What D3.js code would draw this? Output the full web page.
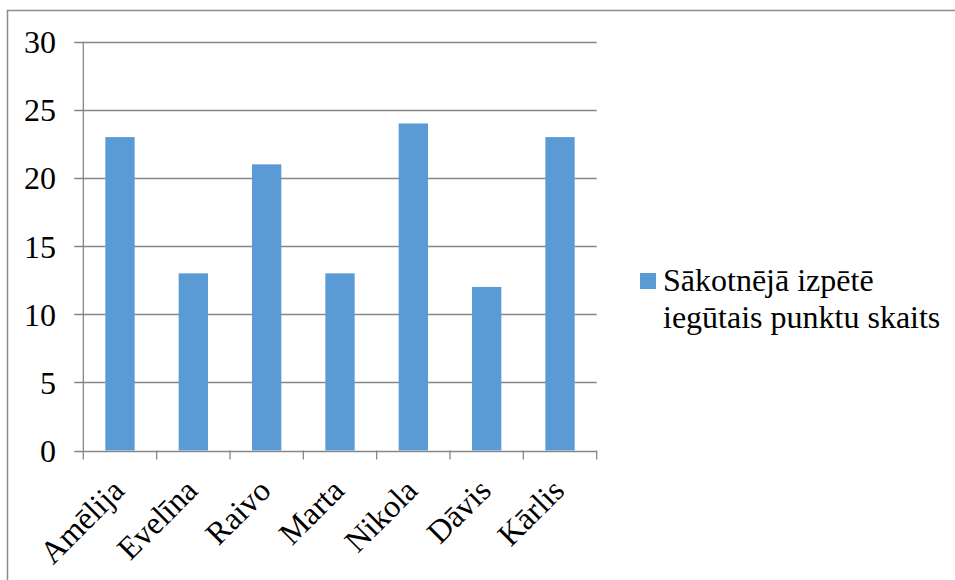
<!DOCTYPE html>
<html>
<head>
<meta charset="utf-8">
<script src="https://cdn.jsdelivr.net/npm/d3@7"></script>
<style>
  body { margin: 0; background: #fff; }
</style>
</head>
<body>
<div id="viz"></div>
<script>
(function chart() {
  const width = 955;
  const height = 580;

  const names = ['Amēlija', 'Evelīna', 'Raivo', 'Marta', 'Nikola', 'Dāvis', 'Kārlis'];
  const scores = [23, 13, 21, 13, 24, 12, 23];
  const yTicks = [0, 5, 10, 15, 20, 25, 30];
  const legendLines = ['Sākotnējā izpētē', 'iegūtais punktu skaits'];

  const barColor = '#5B9BD5';
  const gridColor = '#878787';
  const fontFamily = '"Liberation Serif", "Times New Roman", serif';

  const plot = { left: 83.3, right: 596.7, top: 41.7, bottom: 450.5 };

  const svg = d3.select('#viz').append('svg')
    .attr('width', width)
    .attr('height', height)
    .attr('font-family', fontFamily);

  // outer border (top and left visible)
  svg.append('path')
    .attr('d', `M7.5,${height}V10.5H${width}`)
    .attr('fill', 'none')
    .attr('stroke', '#8c8c8c')
    .attr('stroke-width', 1.5);

  const x = d3.scaleBand()
    .domain(names)
    .range([plot.left, plot.right])
    .paddingInner(0.6)
    .paddingOuter(0.3);

  const y = d3.scaleLinear()
    .domain([0, 30])
    .range([plot.bottom, plot.top]);

  // gridlines + y labels
  const yAxis = svg.append('g').attr('class', 'y-axis');
  yAxis.selectAll('line')
    .data(yTicks)
    .enter()
    .append('line')
    .attr('x1', plot.left - 9)
    .attr('x2', plot.right)
    .attr('y1', d => Math.round(y(d)) + 0.5)
    .attr('y2', d => Math.round(y(d)) + 0.5)
    .attr('stroke', gridColor)
    .attr('stroke-width', 1.3);

  yAxis.selectAll('text')
    .data(yTicks)
    .enter()
    .append('text')
    .text(d => d)
    .attr('x', 56)
    .attr('y', d => y(d) + 11.5)
    .attr('font-family', fontFamily)
    .attr('font-size', 32)
    .attr('fill', '#000')
    .style('text-anchor', 'end');

  // vertical axis line
  svg.append('line')
    .attr('x1', plot.left).attr('x2', plot.left)
    .attr('y1', plot.top).attr('y2', plot.bottom)
    .attr('stroke', gridColor)
    .attr('stroke-width', 1.3);

  // bars
  svg.append('g').attr('class', 'bars')
    .selectAll('rect')
    .data(names)
    .enter()
    .append('rect')
    .attr('x', d => x(d))
    .attr('width', x.bandwidth())
    .attr('y', (d, i) => y(scores[i]))
    .attr('height', (d, i) => y(0) - y(scores[i]))
    .style('fill', barColor);

  // x axis ticks between categories
  const tickXs = d3.range(names.length + 1).map(i => plot.left + (plot.right - plot.left) * i / names.length);
  svg.append('g').attr('class', 'x-ticks')
    .selectAll('line')
    .data(tickXs)
    .enter()
    .append('line')
    .attr('x1', d => d).attr('x2', d => d)
    .attr('y1', plot.bottom).attr('y2', plot.bottom + 9)
    .attr('stroke', gridColor)
    .attr('stroke-width', 1.3);

  // x labels, rotated
  svg.append('g').attr('class', 'x-labels')
    .selectAll('text')
    .data(names)
    .enter()
    .append('text')
    .text(d => d)
    .attr('transform', d => `translate(${x(d) + x.bandwidth() / 2 + 6},${plot.bottom + 42}) rotate(-45)`)
    .attr('font-family', fontFamily)
    .attr('font-size', 32)
    .attr('fill', '#000')
    .style('text-anchor', 'end');

  // legend
  const legend = svg.append('g').attr('class', 'legend');
  legend.append('rect')
    .attr('x', 640)
    .attr('y', 273)
    .attr('width', 16)
    .attr('height', 16)
    .style('fill', barColor);
  legend.selectAll('text')
    .data(legendLines)
    .enter()
    .append('text')
    .text(d => d)
    .attr('x', 663)
    .attr('y', (d, i) => 291 + i * 37)
    .attr('font-family', fontFamily)
    .attr('font-size', 32)
    .attr('fill', '#000');
}());
</script>
</body>
</html>
